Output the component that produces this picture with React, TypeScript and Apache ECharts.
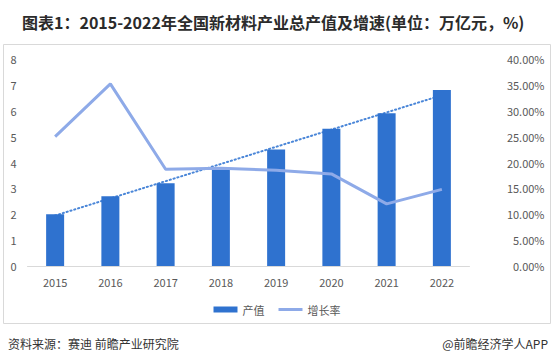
import React, { useEffect, useRef } from "react";
import * as echarts from "echarts";

const categories = ["2015", "2016", "2017", "2018", "2019", "2020", "2021", "2022"];
const outputValues = [2.0, 2.7, 3.2, 3.8, 4.5, 5.3, 5.9, 6.8];
const growthRates = [25.0, 35.2, 18.7, 18.9, 18.5, 17.8, 12.0, 14.8];
const trendValues = [1.95, null, null, null, null, null, null, 6.6];
const leftTicks = { min: 0, max: 8, interval: 1 };
const rightTicks = { min: 0, max: 40, interval: 5 };

const FONT = "'Noto Sans CJK SC', 'Microsoft YaHei', sans-serif";

export default function App() {
  const ref = useRef<HTMLDivElement>(null);
  useEffect(() => {
    if (!ref.current) return;
    const chart = echarts.init(ref.current, undefined, { renderer: "svg" });
    chart.setOption({
      animation: false,
      backgroundColor: "#ffffff",
      textStyle: { fontFamily: FONT },
      graphic: [
        {
          type: "rect",
          shape: { x: 3.5, y: 44.5, width: 547, height: 279 },
          style: { fill: "none", stroke: "#d9d9d9", lineWidth: 1 },
          z: -10,
        },
        {
          type: "text",
          x: 22,
          y: 22,
          style: {
            text: "图表1：2015-2022年全国新材料产业总产值及增速(单位：万亿元，%)",
            font: `bold 16px ${FONT}`,
            fill: "#2b2b2b",
            verticalAlign: "middle",
          },
        },
        {
          type: "text",
          x: 8,
          y: 343,
          style: {
            text: "资料来源：赛迪 前瞻产业研究院",
            font: `12px ${FONT}`,
            fill: "#333333",
            verticalAlign: "middle",
          },
        },
        {
          type: "text",
          x: 548,
          y: 343,
          style: {
            text: "@前瞻经济学人APP",
            font: `12px ${FONT}`,
            fill: "#333333",
            align: "right",
            verticalAlign: "middle",
          },
        },
      ],
      grid: { left: 27.5, right: 84.5, top: 59, bottom: 98, containLabel: false },
      legend: {
        data: [
          { name: "产值", icon: "rect" },
          { name: "增长率", icon: "path://M0,0 L24,0 L24,3 L0,3 Z" },
        ],
        top: 299,
        left: "center",
        itemWidth: 24,
        itemHeight: 6,
        itemGap: 14,
        textStyle: { fontSize: 11, color: "#595959", fontFamily: FONT },
      },
      xAxis: {
        type: "category",
        data: categories,
        axisLine: { lineStyle: { color: "#d9d9d9", width: 1 } },
        axisTick: { show: false },
        axisLabel: { color: "#595959", fontSize: 11, margin: 10 },
      },
      yAxis: [
        {
          type: "value",
          min: leftTicks.min,
          max: leftTicks.max,
          interval: leftTicks.interval,
          splitLine: { show: false },
          axisLine: { show: false },
          axisTick: { show: false },
          axisLabel: { color: "#595959", fontSize: 11, margin: 11 },
        },
        {
          type: "value",
          min: rightTicks.min,
          max: rightTicks.max,
          interval: rightTicks.interval,
          splitLine: { show: false },
          axisLine: { show: false },
          axisTick: { show: false },
          axisLabel: {
            color: "#595959",
            fontSize: 11,
            margin: 75,
            align: "right",
            formatter: (v: number) => `${v.toFixed(2)}%`,
          },
        },
      ],
      series: [
        {
          name: "趋势",
          type: "line",
          data: trendValues,
          connectNulls: true,
          symbol: "none",
          yAxisIndex: 0,
          z: 1,
          lineStyle: { color: "#4a86d8", width: 2, type: [1.2, 2.8], cap: "round" },
          silent: true,
        },
        {
          name: "产值",
          type: "bar",
          data: outputValues,
          barWidth: 18,
          yAxisIndex: 0,
          z: 2,
          itemStyle: { color: "#2f72cf" },
        },
        {
          name: "增长率",
          type: "line",
          data: growthRates,
          yAxisIndex: 1,
          symbol: "none",
          showSymbol: false,
          z: 3,
          lineStyle: { color: "#8eaae8", width: 3 },
          itemStyle: { color: "#8eaae8" },
        },
      ],
    });
    return () => chart.dispose();
  }, []);
  return (
    <div
      ref={ref}
      style={{ position: "fixed", left: 0, top: 0, width: 554, height: 364 }}
    />
  );
}
